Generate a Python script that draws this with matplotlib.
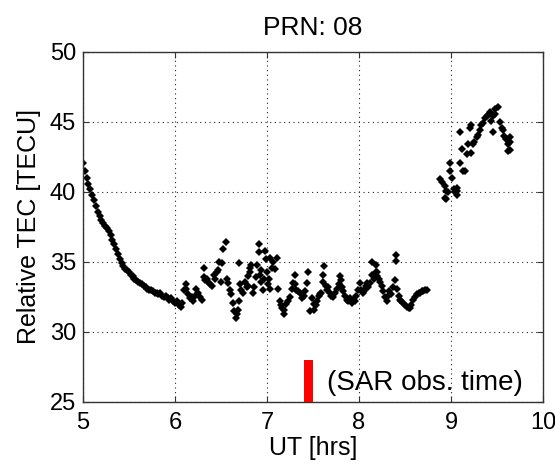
import matplotlib
matplotlib.use("Agg")
import matplotlib.pyplot as plt

plt.rcParams['font.family'] = ['Liberation Sans', 'DejaVu Sans']

# ---- data ----
ut_smooth = [5.00, 5.02, 5.04, 5.06, 5.08, 5.10, 5.12, 5.14, 5.16, 5.18,
             5.20, 5.22, 5.24, 5.26, 5.28, 5.30, 5.32, 5.34, 5.36, 5.38,
             5.40, 5.42, 5.44, 5.46, 5.48, 5.50, 5.52, 5.54, 5.56, 5.58,
             5.60, 5.62, 5.64, 5.66, 5.68, 5.70, 5.72, 5.74, 5.76, 5.78,
             5.80, 5.82, 5.84, 5.86, 5.88, 5.90, 5.92, 5.94, 5.96, 5.98,
             6.00, 6.02, 6.04, 6.06]
tec_smooth = [42.1, 41.5, 41.0, 40.6, 40.2, 39.8, 39.4, 39.0, 38.6, 38.3,
              38.0, 37.8, 37.6, 37.4, 37.2, 36.9, 36.6, 36.3, 35.9, 35.6,
              35.2, 34.9, 34.7, 34.5, 34.4, 34.3, 34.1, 34.0, 33.8, 33.7,
              33.6, 33.5, 33.4, 33.3, 33.2, 33.1, 33.0, 33.0, 32.9, 32.8,
              32.8, 32.7, 32.8, 32.6, 32.5, 32.6, 32.4, 32.3, 32.4, 32.2,
              32.1, 32.2, 31.9, 31.8]

ut_noisy = [6.08, 6.10, 6.12, 6.12, 6.14, 6.16, 6.18, 6.20, 6.22, 6.23,
            6.25, 6.27, 6.29, 6.31, 6.32, 6.33, 6.35, 6.36, 6.38, 6.40,
            6.42, 6.44, 6.46, 6.47, 6.48, 6.50, 6.51, 6.52, 6.55, 6.56,
            6.58, 6.60, 6.61, 6.63, 6.64, 6.66, 6.67, 6.68, 6.70, 6.70,
            6.71, 6.72, 6.74, 6.76, 6.78, 6.79, 6.79, 6.81, 6.82, 6.83,
            6.85, 6.86, 6.88, 6.89, 6.91, 6.91, 6.92, 6.93, 6.94, 6.96,
            6.97, 6.98, 6.99, 7.00, 7.01, 7.02, 7.03, 7.03, 7.05, 7.07,
            7.09, 7.11, 7.12, 7.14, 7.15, 7.16, 7.18, 7.19, 7.21, 7.23,
            7.25, 7.27, 7.28, 7.30, 7.30, 7.32, 7.34, 7.36, 7.38, 7.40,
            7.41, 7.43, 7.45, 7.47, 7.49, 7.51, 7.51, 7.53, 7.54, 7.56,
            7.58, 7.59, 7.61, 7.61, 7.62, 7.64, 7.65, 7.66, 7.68, 7.70,
            7.72, 7.74, 7.76, 7.78, 7.79, 7.80, 7.82, 7.83, 7.85, 7.87,
            7.88, 7.90, 7.92, 7.94, 7.96, 7.97, 7.99, 8.01, 8.02, 8.04,
            8.05, 8.06, 8.08, 8.09, 8.10, 8.12, 8.14, 8.14, 8.16, 8.18,
            8.19, 8.20, 8.20, 8.22, 8.23, 8.25, 8.26, 8.28, 8.30, 8.32,
            8.33, 8.35, 8.37, 8.39, 8.40, 8.40, 8.41, 8.43, 8.45, 8.46,
            8.48, 8.50, 8.52, 8.54, 8.55, 8.57, 8.59, 8.61, 8.63, 8.65,
            8.66, 8.68, 8.70, 8.72, 8.74]
tec_noisy = [32.1, 33.0, 33.4, 33.1, 32.7, 32.4, 32.5, 32.2, 32.6, 33.1,
             32.8, 32.5, 32.3, 34.6, 33.9, 33.7, 33.8, 33.6, 33.4, 33.3,
             34.1, 33.8, 34.3, 34.4, 35.0, 33.6, 34.9, 35.9, 36.4, 33.8,
             33.5, 33.0, 32.7, 32.1, 31.5, 31.0, 31.3, 31.6, 32.2, 34.9,
             33.4, 33.0, 32.8, 33.6, 33.2, 34.0, 33.3, 34.3, 34.6, 34.8,
             32.8, 33.2, 33.9, 34.8, 36.3, 35.7, 34.1, 33.6, 34.4, 33.0,
             33.8, 35.8, 35.2, 34.3, 33.4, 33.8, 33.1, 35.3, 34.6, 35.0,
             34.5, 35.3, 33.1, 32.2, 31.9, 31.7, 31.3, 31.6, 32.0, 32.2,
             32.5, 33.1, 33.5, 34.1, 33.4, 33.0, 32.9, 32.8, 32.4, 32.6,
             32.9, 33.5, 34.3, 31.5, 32.4, 32.0, 31.6, 31.9, 32.2, 32.6,
             32.7, 32.8, 33.6, 34.1, 34.7, 33.3, 33.0, 33.2, 32.8, 32.6,
             32.5, 32.8, 33.1, 33.4, 34.0, 33.7, 33.2, 32.9, 32.6, 32.3,
             32.2, 32.4, 32.1, 32.3, 32.2, 32.6, 33.0, 33.5, 33.0, 32.8,
             32.9, 33.1, 33.3, 33.5, 33.2, 33.5, 34.1, 35.0, 33.8, 34.3,
             34.8, 34.3, 34.0, 33.8, 33.6, 33.3, 32.9, 32.5, 32.2, 32.6,
             32.9, 32.7, 33.2, 33.7, 35.1, 35.5, 33.1, 32.6, 32.3, 32.2,
             32.1, 31.9, 31.8, 31.7, 31.7, 31.9, 32.3, 32.5, 32.7, 32.8,
             32.8, 32.9, 32.9, 33.0, 33.0]

ut_late = [8.88, 8.90, 8.93, 8.95, 8.93, 8.95, 8.97, 8.99, 8.99, 9.01,
           9.03, 9.04, 9.06, 9.06, 9.07, 9.10, 9.10, 9.12, 9.13, 9.15,
           9.17, 9.19, 9.21, 9.22, 9.22, 9.24, 9.25, 9.28, 9.29, 9.32,
           9.33, 9.35, 9.37, 9.39, 9.41, 9.42, 9.44, 9.46, 9.46, 9.48,
           9.48, 9.51, 9.53, 9.55, 9.57, 9.58, 9.60, 9.62, 9.62, 9.64,
           9.64, 9.64]
tec_late = [40.9, 40.7, 40.4, 40.1, 39.6, 39.5, 40.0, 41.5, 42.1, 41.0,
            40.2, 40.0, 40.3, 39.8, 40.1, 42.1, 44.3, 43.1, 41.5, 41.5,
            42.7, 43.4, 44.6, 44.8, 42.8, 43.4, 43.6, 43.9, 44.1, 44.4,
            44.8, 44.9, 45.3, 45.4, 45.6, 45.7, 45.1, 44.3, 45.4, 45.6,
            45.9, 46.1, 45.0, 44.6, 44.4, 44.0, 43.8, 43.4, 42.9, 43.9,
            43.0, 43.6]

sar_time = [7.45]
sar_bar_height = [3.0]   # from 25 to 28 TECU
sar_label = "(SAR obs. time)"

xticks = [5, 6, 7, 8, 9, 10]
yticks = [25, 30, 35, 40, 45, 50]

# ---- figure ----
fig = plt.figure(figsize=(5.55, 4.67), dpi=100)
ax = fig.add_axes([0.1495, 0.1392, 0.8289, 0.7495])

mk = dict(linestyle='none', marker='D', markersize=4.3, color='black',
          markeredgewidth=0)
ax.plot(ut_smooth, tec_smooth, **mk)
ax.plot(ut_noisy, tec_noisy, **mk)
ax.plot(ut_late, tec_late, **mk)

ax.bar(sar_time, sar_bar_height, bottom=25, width=0.1, color='#ff0000',
       zorder=3)
ax.text(7.65, 25.85, sar_label, fontsize=20, ha='left', va='baseline')

ax.set_xlim(5, 10)
ax.set_ylim(25, 50)
ax.set_xticks(xticks)
ax.set_yticks(yticks)
ax.grid(True, color='0.15', linestyle=(0, (1, 3.2)), linewidth=0.8)
ax.set_axisbelow(True)

ax.tick_params(direction='in', top=True, right=True, length=4, width=0.8,
               labelsize=17, color='0.2')
ax.tick_params(axis='x', pad=7)
ax.tick_params(axis='y', pad=5)
for s in ax.spines.values():
    s.set_color('0.2')
    s.set_linewidth(1.0)

ax.set_title('PRN: 08', fontsize=19, pad=12)
ax.set_xlabel('UT [hrs]', fontsize=18, labelpad=2)
ax.set_ylabel('Relative TEC [TECU]', fontsize=18, labelpad=6)

fig.savefig('out.png', dpi=100)
